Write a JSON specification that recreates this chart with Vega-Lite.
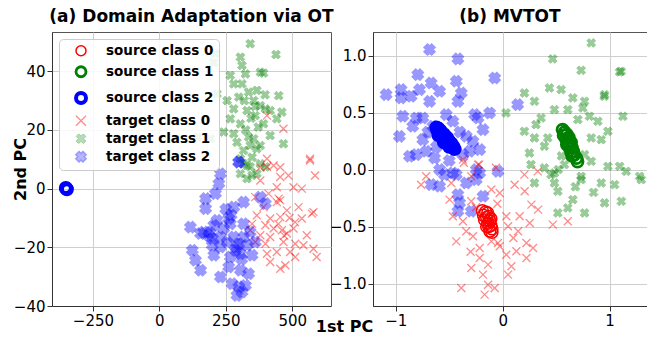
{
  "$schema": "https://vega.github.io/schema/vega-lite/v6.json",
  "padding": {"left": 11, "top": 7, "right": 0, "bottom": 0},
  "spacing": -6,
  "title": {"text": "1st PC", "orient": "bottom", "anchor": "middle", "font": "DejaVu Sans", "fontSize": 16, "fontWeight": "bold", "offset": -10, "dx": 15},
  "config": {
    "font": "DejaVu Sans",
    "view": {"stroke": "#555555", "strokeWidth": 1},
    "axis": {"labelFont": "DejaVu Sans", "labelFontSize": 15, "labelColor": "#000000", "tickColor": "#333333", "tickSize": 5, "domainColor": "#333333", "grid": true, "gridColor": "#cfcfcf", "gridWidth": 1, "titleFont": "DejaVu Sans", "titleFontSize": 16, "titleFontWeight": "bold", "titleColor": "#000000", "labelPadding": 2},
    "title": {"font": "DejaVu Sans", "fontSize": 17, "fontWeight": "bold", "color": "#000000", "offset": 6}
  },
  "datasets": {
    "a": [
      {"s":"t1","x":342,"y":49.4},{"s":"t1","x":439,"y":45.7},{"s":"t1","x":305,"y":44.8},{"s":"t1","x":311,"y":42},{"s":"t1","x":211,"y":46},{"s":"t1","x":204,"y":43},
      {"s":"t1","x":267,"y":38.6},{"s":"t1","x":324,"y":39.1},{"s":"t1","x":380,"y":39.7},{"s":"t1","x":392,"y":39.4},{"s":"t1","x":280,"y":35.7},{"s":"t1","x":311,"y":35.7},
      {"s":"t1","x":367,"y":33.5},{"s":"t1","x":217,"y":32.3},{"s":"t1","x":255,"y":30},{"s":"t1","x":299,"y":31.2},{"s":"t1","x":336,"y":32.9},{"s":"t1","x":449,"y":31.7},
      {"s":"t1","x":380,"y":28.3},{"s":"t1","x":399,"y":27.2},{"s":"t1","x":417,"y":26.6},{"s":"t1","x":461,"y":26.1},{"s":"t1","x":280,"y":27.2},{"s":"t1","x":330,"y":26.6},
      {"s":"t1","x":361,"y":24.9},{"s":"t1","x":442,"y":23.8},{"s":"t1","x":267,"y":23.8},{"s":"t1","x":305,"y":22.1},{"s":"t1","x":392,"y":22.1},{"s":"t1","x":242,"y":19.3},
      {"s":"t1","x":280,"y":18.7},{"s":"t1","x":336,"y":17.6},{"s":"t1","x":355,"y":17},{"s":"t1","x":417,"y":18.1},{"s":"t1","x":192,"y":17},{"s":"t1","x":144,"y":17.5},
      {"s":"t1","x":292,"y":15.8},{"s":"t1","x":342,"y":14.7},{"s":"t1","x":380,"y":14.7},{"s":"t1","x":317,"y":13},{"s":"t1","x":367,"y":13.6},{"s":"t1","x":467,"y":15.3},
      {"s":"t1","x":349,"y":10.7},{"s":"t1","x":305,"y":10.2},{"s":"t1","x":330,"y":7.9},{"s":"t1","x":380,"y":8.5},{"s":"t1","x":317,"y":8.5},{"s":"t1","x":342,"y":7.4},
      {"s":"t1","x":305,"y":5.1},{"s":"t1","x":367,"y":5.1},{"s":"t1","x":330,"y":3.4},{"s":"t1","x":399,"y":7.4},{"s":"t1","x":349,"y":4.5},{"s":"t1","x":360,"y":28},
      {"s":"t1","x":345,"y":24},{"s":"t1","x":372,"y":21},{"s":"t1","x":325,"y":20},{"s":"t1","x":355,"y":30},{"s":"t1","x":398,"y":32},{"s":"t1","x":320,"y":30},
      {"s":"t0","x":567,"y":9.6},{"s":"t0","x":586,"y":4.5},{"s":"t0","x":405,"y":7.4},{"s":"t0","x":430,"y":7.9},{"s":"t0","x":455,"y":4},{"s":"t0","x":486,"y":4.5},
      {"s":"t0","x":380,"y":2.8},{"s":"t0","x":442,"y":0.5},{"s":"t0","x":505,"y":0.5},{"s":"t0","x":411,"y":-1.7},{"s":"t0","x":449,"y":-3.4},{"s":"t0","x":442,"y":-4.6},
      {"s":"t0","x":361,"y":-2.9},{"s":"t0","x":524,"y":-6.3},{"s":"t0","x":580,"y":-8},{"s":"t0","x":392,"y":-6.3},{"s":"t0","x":480,"y":-7.4},{"s":"t0","x":367,"y":-9.1},
      {"s":"t0","x":417,"y":-10.2},{"s":"t0","x":455,"y":-9.7},{"s":"t0","x":511,"y":-11.4},{"s":"t0","x":536,"y":-10.2},{"s":"t0","x":349,"y":-12},{"s":"t0","x":399,"y":-12.5},
      {"s":"t0","x":430,"y":-13.6},{"s":"t0","x":461,"y":-14.2},{"s":"t0","x":480,"y":-15.3},{"s":"t0","x":505,"y":-13.6},{"s":"t0","x":555,"y":-15.9},{"s":"t0","x":342,"y":-14.2},
      {"s":"t0","x":380,"y":-15.9},{"s":"t0","x":417,"y":-16.5},{"s":"t0","x":361,"y":-18.2},{"s":"t0","x":399,"y":-18.8},{"s":"t0","x":467,"y":-18.2},{"s":"t0","x":511,"y":-18.8},
      {"s":"t0","x":542,"y":-19.3},{"s":"t0","x":580,"y":-20.5},{"s":"t0","x":592,"y":-23.3},{"s":"t0","x":405,"y":-22.2},{"s":"t0","x":442,"y":-21.6},{"s":"t0","x":492,"y":-21.6},
      {"s":"t0","x":417,"y":-25},{"s":"t0","x":455,"y":-27.3},{"s":"t0","x":474,"y":-26.1},{"s":"t0","x":511,"y":-23.3},{"s":"t0","x":574,"y":-8.5},{"s":"t0","x":536,"y":0},
      {"s":"t0","x":467,"y":20.4},{"s":"t0","x":405,"y":24.9},{"s":"t0","x":567,"y":10.2},{"s":"t0","x":405,"y":10.2},{"s":"t0","x":455,"y":7.3},{"s":"t0","x":380,"y":7.3},
      {"s":"t0","x":455,"y":-4},{"s":"t0","x":470,"y":-16},{"s":"t0","x":448,"y":-12},{"s":"t0","x":490,"y":-10},
      {"s":"t2","x":299,"y":9.1},{"s":"t2","x":230,"y":5.1},{"s":"t2","x":224,"y":1.7},{"s":"t2","x":211,"y":-1.7},{"s":"t2","x":174,"y":-3.4},{"s":"t2","x":174,"y":-6.8},
      {"s":"t2","x":317,"y":-4.6},{"s":"t2","x":280,"y":-6.3},{"s":"t2","x":380,"y":-2.9},{"s":"t2","x":399,"y":-5.1},{"s":"t2","x":261,"y":-10.2},{"s":"t2","x":217,"y":-10.8},
      {"s":"t2","x":205,"y":-12.5},{"s":"t2","x":117,"y":-13.1},{"s":"t2","x":167,"y":-14.8},{"s":"t2","x":186,"y":-16},{"s":"t2","x":242,"y":-13.6},{"s":"t2","x":267,"y":-12},
      {"s":"t2","x":317,"y":-12},{"s":"t2","x":342,"y":-14.8},{"s":"t2","x":280,"y":-16.5},{"s":"t2","x":255,"y":-18.2},{"s":"t2","x":299,"y":-18.8},{"s":"t2","x":330,"y":-19.3},
      {"s":"t2","x":361,"y":-18.2},{"s":"t2","x":230,"y":-19.9},{"s":"t2","x":199,"y":-19.3},{"s":"t2","x":124,"y":-21},{"s":"t2","x":136,"y":-24.4},{"s":"t2","x":155,"y":-27.8},
      {"s":"t2","x":205,"y":-22.7},{"s":"t2","x":267,"y":-23.3},{"s":"t2","x":305,"y":-22.2},{"s":"t2","x":349,"y":-22.7},{"s":"t2","x":261,"y":-26.7},{"s":"t2","x":305,"y":-27.8},
      {"s":"t2","x":336,"y":-29},{"s":"t2","x":230,"y":-30.1},{"s":"t2","x":274,"y":-32.4},{"s":"t2","x":299,"y":-33.5},{"s":"t2","x":311,"y":-35.2},{"s":"t2","x":292,"y":-36.4},
      {"s":"t2","x":324,"y":-33},{"s":"t2","x":286,"y":-21},{"s":"t2","x":317,"y":-16.5},{"s":"t2","x":230,"y":-16.5},{"s":"t2","x":155,"y":-15.3},{"s":"t2","x":299,"y":9},
      {"s":"t2","x":190,"y":-15},{"s":"t2","x":200,"y":-17},{"s":"t2","x":290,"y":-20},{"s":"t2","x":310,"y":-24},{"s":"t2","x":270,"y":-9},{"s":"t2","x":250,"y":-7},
      {"s":"s2","x":-352,"y":0.2},{"s":"s2","x":-350,"y":0},{"s":"s2","x":-348,"y":-0.2}
    ],
    "b": [
      {"s":"t2","x":-0.684,"y":1.053},{"s":"t2","x":-0.419,"y":0.971},{"s":"t2","x":-0.794,"y":0.833},{"s":"t2","x":-0.669,"y":0.76},{"s":"t2","x":-0.434,"y":0.775},{"s":"t2","x":-0.075,"y":0.804},
      {"s":"t2","x":-1.09,"y":0.658},{"s":"t2","x":-0.95,"y":0.702},{"s":"t2","x":-0.95,"y":0.629},{"s":"t2","x":-0.856,"y":0.643},{"s":"t2","x":-0.778,"y":0.702},{"s":"t2","x":-0.684,"y":0.599},
      {"s":"t2","x":-0.59,"y":0.687},{"s":"t2","x":-0.419,"y":0.599},{"s":"t2","x":-0.387,"y":0.672},{"s":"t2","x":-0.934,"y":0.468},{"s":"t2","x":-0.809,"y":0.453},{"s":"t2","x":-0.747,"y":0.453},
      {"s":"t2","x":-0.528,"y":0.482},{"s":"t2","x":-0.466,"y":0.424},{"s":"t2","x":-0.262,"y":0.482},{"s":"t2","x":-0.122,"y":0.497},{"s":"t2","x":-0.231,"y":0.453},{"s":"t2","x":-0.966,"y":0.292},
      {"s":"t2","x":-0.841,"y":0.38},{"s":"t2","x":-0.747,"y":0.263},{"s":"t2","x":-0.653,"y":0.38},{"s":"t2","x":-0.34,"y":0.292},{"s":"t2","x":-0.184,"y":0.351},{"s":"t2","x":-0.278,"y":0.249},
      {"s":"t2","x":-0.215,"y":0.175},{"s":"t2","x":-0.872,"y":0.117},{"s":"t2","x":-0.809,"y":0.132},{"s":"t2","x":-0.637,"y":0.102},{"s":"t2","x":-0.716,"y":0.161},{"s":"t2","x":-0.372,"y":0.132},
      {"s":"t2","x":-0.309,"y":0.161},{"s":"t2","x":-0.59,"y":0.0},{"s":"t2","x":-0.466,"y":-0.029},{"s":"t2","x":-0.247,"y":0.0},{"s":"t2","x":-0.044,"y":-0.015},{"s":"t2","x":0.14,"y":0.57},
      {"s":"t2","x":-0.669,"y":-0.132},{"s":"t2","x":-0.59,"y":-0.146},{"s":"t2","x":-0.544,"y":-0.044},{"s":"t2","x":-0.434,"y":-0.044},{"s":"t2","x":-0.34,"y":-0.117},{"s":"t2","x":-0.419,"y":-0.219},
      {"s":"t2","x":-0.403,"y":-0.292},{"s":"t2","x":-0.419,"y":-0.365},{"s":"t2","x":-0.294,"y":-0.365},{"s":"t2","x":-0.184,"y":-0.234},{"s":"t2","x":-0.215,"y":-0.029},{"s":"t2","x":-0.247,"y":-0.088},
      {"s":"t2","x":-0.5,"y":0.08},{"s":"t2","x":-0.62,"y":0.2},{"s":"t2","x":-0.4,"y":0.33},{"s":"t2","x":-0.7,"y":0.33},
      {"s":"t1","x":0.828,"y":1.111},{"s":"t1","x":0.468,"y":0.971},{"s":"t1","x":0.734,"y":0.871},{"s":"t1","x":1.094,"y":0.857},{"s":"t1","x":0.437,"y":0.716},{"s":"t1","x":0.547,"y":0.702},
      {"s":"t1","x":0.203,"y":0.672},{"s":"t1","x":0.297,"y":0.599},{"s":"t1","x":0.656,"y":0.629},{"s":"t1","x":0.766,"y":0.599},{"s":"t1","x":0.953,"y":0.658},{"s":"t1","x":0.031,"y":0.497},
      {"s":"t1","x":0.484,"y":0.526},{"s":"t1","x":0.609,"y":0.526},{"s":"t1","x":0.75,"y":0.541},{"s":"t1","x":0.359,"y":0.453},{"s":"t1","x":0.812,"y":0.468},{"s":"t1","x":1.125,"y":0.468},
      {"s":"t1","x":0.312,"y":0.395},{"s":"t1","x":0.703,"y":0.439},{"s":"t1","x":0.89,"y":0.424},{"s":"t1","x":0.203,"y":0.336},{"s":"t1","x":0.297,"y":0.278},{"s":"t1","x":0.422,"y":0.278},
      {"s":"t1","x":0.828,"y":0.278},{"s":"t1","x":0.984,"y":0.336},{"s":"t1","x":0.922,"y":0.263},{"s":"t1","x":0.25,"y":0.146},{"s":"t1","x":0.39,"y":0.205},{"s":"t1","x":0.766,"y":0.132},
      {"s":"t1","x":0.828,"y":0.073},{"s":"t1","x":0.984,"y":0.029},{"s":"t1","x":1.094,"y":0.029},{"s":"t1","x":1.156,"y":-0.015},{"s":"t1","x":1.281,"y":-0.059},{"s":"t1","x":0.265,"y":0.044},
      {"s":"t1","x":0.39,"y":0.015},{"s":"t1","x":0.484,"y":-0.029},{"s":"t1","x":0.734,"y":-0.059},{"s":"t1","x":0.578,"y":0.044},{"s":"t1","x":0.297,"y":-0.117},{"s":"t1","x":0.516,"y":-0.19},
      {"s":"t1","x":0.656,"y":-0.263},{"s":"t1","x":0.766,"y":-0.38},{"s":"t1","x":0.516,"y":-0.38},{"s":"t1","x":0.609,"y":-0.336},{"s":"t1","x":0.953,"y":-0.292},{"s":"t1","x":1.11,"y":-0.278},
      {"s":"t1","x":1.047,"y":-0.132},{"s":"t1","x":1.297,"y":-0.088},{"s":"t1","x":0.922,"y":-0.117},{"s":"t1","x":0.453,"y":-0.044},{"s":"t1","x":0.734,"y":-0.088},{"s":"t1","x":0.484,"y":-0.117},
      {"s":"t1","x":1.109,"y":0.862},{"s":"t1","x":0.95,"y":0.643},{"s":"t1","x":0.55,"y":0.12},{"s":"t1","x":0.52,"y":0.0},{"s":"t1","x":0.68,"y":-0.15},{"s":"t1","x":0.85,"y":-0.2},
      {"s":"t0","x":-0.716,"y":-0.058},{"s":"t0","x":-0.763,"y":-0.132},{"s":"t0","x":-0.481,"y":-0.117},{"s":"t0","x":-0.294,"y":-0.058},{"s":"t0","x":-0.106,"y":-0.175},{"s":"t0","x":-0.028,"y":-0.205},
      {"s":"t0","x":-0.497,"y":-0.263},{"s":"t0","x":-0.294,"y":-0.278},{"s":"t0","x":-0.466,"y":-0.409},{"s":"t0","x":-0.372,"y":-0.453},{"s":"t0","x":0.034,"y":-0.409},{"s":"t0","x":0.112,"y":-0.132},
      {"s":"t0","x":0.206,"y":-0.19},{"s":"t0","x":0.269,"y":-0.307},{"s":"t0","x":0.331,"y":-0.351},{"s":"t0","x":0.159,"y":-0.409},{"s":"t0","x":0.253,"y":-0.468},{"s":"t0","x":0.05,"y":-0.497},
      {"s":"t0","x":0.144,"y":-0.541},{"s":"t0","x":-0.341,"y":-0.541},{"s":"t0","x":-0.278,"y":-0.585},{"s":"t0","x":-0.434,"y":-0.629},{"s":"t0","x":-0.215,"y":-0.687},{"s":"t0","x":-0.106,"y":-0.629},
      {"s":"t0","x":-0.028,"y":-0.672},{"s":"t0","x":0.034,"y":-0.746},{"s":"t0","x":0.128,"y":-0.716},{"s":"t0","x":0.222,"y":-0.643},{"s":"t0","x":0.284,"y":-0.687},{"s":"t0","x":0.222,"y":-0.775},
      {"s":"t0","x":-0.215,"y":-0.775},{"s":"t0","x":-0.137,"y":-0.833},{"s":"t0","x":-0.294,"y":-0.863},{"s":"t0","x":-0.184,"y":-0.921},{"s":"t0","x":0.05,"y":-0.921},{"s":"t0","x":-0.387,"y":-1.038},
      {"s":"t0","x":-0.137,"y":-1.009},{"s":"t0","x":-0.075,"y":-1.038},{"s":"t0","x":-0.169,"y":-1.096},{"s":"t0","x":-0.044,"y":-0.643},{"s":"t0","x":0.081,"y":-0.848},{"s":"t0","x":-0.372,"y":0.088},
      {"s":"t0","x":-0.231,"y":0.044},{"s":"t0","x":-0.363,"y":0.06},{"s":"t0","x":-0.22,"y":0.044},{"s":"t0","x":-0.063,"y":0.017},{"s":"t0","x":0.609,"y":-0.453},{"s":"t0","x":0.469,"y":-0.482},
      {"s":"t0","x":0.203,"y":-0.044},{"s":"t0","x":0.328,"y":-0.015},{"s":"t0","x":-0.25,"y":-0.33},{"s":"t0","x":-0.05,"y":-0.3},{"s":"t0","x":0.1,"y":-0.6},{"s":"t0","x":-0.3,"y":-0.72},
      {"s":"s2","x":-0.62,"y":0.37},{"s":"s2","x":-0.61,"y":0.34},{"s":"s2","x":-0.6,"y":0.36},{"s":"s2","x":-0.59,"y":0.32},{"s":"s2","x":-0.58,"y":0.34},{"s":"s2","x":-0.57,"y":0.3},
      {"s":"s2","x":-0.56,"y":0.28},{"s":"s2","x":-0.55,"y":0.31},{"s":"s2","x":-0.54,"y":0.27},{"s":"s2","x":-0.53,"y":0.25},{"s":"s2","x":-0.52,"y":0.28},{"s":"s2","x":-0.51,"y":0.23},
      {"s":"s2","x":-0.5,"y":0.25},{"s":"s2","x":-0.49,"y":0.21},{"s":"s2","x":-0.48,"y":0.23},{"s":"s2","x":-0.46,"y":0.2},{"s":"s2","x":-0.45,"y":0.18},{"s":"s2","x":-0.6,"y":0.3},
      {"s":"s2","x":-0.55,"y":0.24},{"s":"s2","x":-0.5,"y":0.2},
      {"s":"s1","x":0.56,"y":0.35},{"s":"s1","x":0.58,"y":0.33},{"s":"s1","x":0.57,"y":0.3},{"s":"s1","x":0.6,"y":0.31},{"s":"s1","x":0.59,"y":0.27},{"s":"s1","x":0.61,"y":0.25},
      {"s":"s1","x":0.62,"y":0.28},{"s":"s1","x":0.63,"y":0.22},{"s":"s1","x":0.64,"y":0.24},{"s":"s1","x":0.65,"y":0.19},{"s":"s1","x":0.62,"y":0.2},{"s":"s1","x":0.66,"y":0.16},
      {"s":"s1","x":0.67,"y":0.13},{"s":"s1","x":0.65,"y":0.12},{"s":"s1","x":0.69,"y":0.1},{"s":"s1","x":0.7,"y":0.07},{"s":"s1","x":0.6,"y":0.22},{"s":"s1","x":0.64,"y":0.15},
      {"s":"s0","x":-0.19,"y":-0.36},{"s":"s0","x":-0.16,"y":-0.37},{"s":"s0","x":-0.14,"y":-0.38},{"s":"s0","x":-0.18,"y":-0.4},{"s":"s0","x":-0.15,"y":-0.42},{"s":"s0","x":-0.13,"y":-0.41},
      {"s":"s0","x":-0.17,"y":-0.44},{"s":"s0","x":-0.12,"y":-0.45},{"s":"s0","x":-0.14,"y":-0.47},{"s":"s0","x":-0.11,"y":-0.49},{"s":"s0","x":-0.13,"y":-0.5},{"s":"s0","x":-0.1,"y":-0.52},
      {"s":"s0","x":-0.12,"y":-0.54},{"s":"s0","x":-0.1,"y":-0.55},{"s":"s0","x":-0.15,"y":-0.5},{"s":"s0","x":-0.11,"y":-0.43}
    ]
  },
  "hconcat": [
    {
      "data": {"name": "a"},
      "width": 279,
      "height": 274,
      "title": {"text": "(a) Domain Adaptation via OT"},
      "mark": {"type": "point", "clip": true},
      "encoding": {
        "x": {"field": "x", "type": "quantitative", "scale": {"domain": [-404, 646], "nice": false, "zero": false}, "axis": {"title": null, "values": [-250, 0, 250, 500]}},
        "y": {"field": "y", "type": "quantitative", "scale": {"domain": [-40, 53.4], "nice": false, "zero": false}, "axis": {"title": "2nd PC", "values": [-40, -20, 0, 20, 40], "titleX": -24}},
        "shape": {"field": "s", "type": "nominal", "scale": {"domain": ["s0","s1","s2","t0","t1","t2"], "range": ["circle","circle","circle","M-1,-1L1,1M-1,1L1,-1","M0.955,-0.46L0.495,0L0.955,0.46L0.46,0.955L0,0.495L-0.46,0.955L-0.955,0.46L-0.495,0L-0.955,-0.46L-0.46,-0.955L0,-0.495L0.46,-0.955Z","M1.025,-0.389L0.636,0L1.025,0.389L0.389,1.025L0,0.636L-0.389,1.025L-1.025,0.389L-0.636,0L-1.025,-0.389L-0.389,-1.025L0,-0.636L0.389,-1.025Z"]},
          "legend": {"orient": "top-left", "title": null, "offset": 7, "padding": 5, "rowPadding": 2, "fillColor": "rgba(255,255,255,0.85)", "strokeColor": "#cccccc", "cornerRadius": 4, "labelFont": "DejaVu Sans", "labelFontSize": 13.5, "labelFontWeight": "bold", "labelColor": "#000000", "labelOffset": 18, "symbolOffset": 10,
            "labelExpr": "(substring(datum.label,0,1)=='s' ? 'source class ' : 'target class ') + substring(datum.label,1,2)"}},
        "fill": {"field": "s", "type": "nominal", "scale": {"domain": ["s0","s1","s2","t0","t1","t2"], "range": ["transparent","transparent","transparent","transparent","#008000","#0000ff"]}},
        "stroke": {"field": "s", "type": "nominal", "scale": {"domain": ["s0","s1","s2","t0","t1","t2"], "range": ["#ff0000","#008000","#0000ff","#ff0000","#008000","#0000ff"]}},
        "opacity": {"field": "s", "type": "nominal", "scale": {"type": "ordinal", "domain": ["s0","s1","s2","t0","t1","t2"], "range": [1, 1, 1, 0.45, 0.4, 0.4]}},
        "size": {"field": "s", "type": "nominal", "legend": null, "scale": {"type": "ordinal", "domain": ["s0","s1","s2","t0","t1","t2","zz"], "range": [140, 120, 100, 64, 85, 115, 1]}},
        "strokeWidth": {"field": "s", "type": "nominal", "scale": {"type": "ordinal", "domain": ["s0","s1","s2","t0","t1","t2"], "range": [1.5, 2.8, 4, 1.3, 1, 1.5]}}
      }
    },
    {
      "data": {"name": "b"},
      "width": 274,
      "height": 274,
      "title": {"text": "(b) MVTOT"},
      "mark": {"type": "point", "clip": true},
      "encoding": {
        "x": {"field": "x", "type": "quantitative", "scale": {"domain": [-1.213, 1.35], "nice": false, "zero": false}, "axis": {"title": null, "values": [-1, 0, 1], "format": "d"}},
        "y": {"field": "y", "type": "quantitative", "scale": {"domain": [-1.196, 1.207], "nice": false, "zero": false}, "axis": {"title": null, "values": [-1, -0.5, 0, 0.5, 1], "format": ".1f"}},
        "shape": {"field": "s", "type": "nominal", "legend": null, "scale": {"domain": ["s0","s1","s2","t0","t1","t2"], "range": ["circle","circle","circle","M-1,-1L1,1M-1,1L1,-1","M0.955,-0.46L0.495,0L0.955,0.46L0.46,0.955L0,0.495L-0.46,0.955L-0.955,0.46L-0.495,0L-0.955,-0.46L-0.46,-0.955L0,-0.495L0.46,-0.955Z","M1.025,-0.389L0.636,0L1.025,0.389L0.389,1.025L0,0.636L-0.389,1.025L-1.025,0.389L-0.636,0L-1.025,-0.389L-0.389,-1.025L0,-0.636L0.389,-1.025Z"]}},
        "fill": {"field": "s", "type": "nominal", "legend": null, "scale": {"domain": ["s0","s1","s2","t0","t1","t2"], "range": ["transparent","transparent","transparent","transparent","#008000","#0000ff"]}},
        "stroke": {"field": "s", "type": "nominal", "legend": null, "scale": {"domain": ["s0","s1","s2","t0","t1","t2"], "range": ["#ff0000","#008000","#0000ff","#ff0000","#008000","#0000ff"]}},
        "opacity": {"field": "s", "type": "nominal", "legend": null, "scale": {"type": "ordinal", "domain": ["s0","s1","s2","t0","t1","t2"], "range": [1, 1, 1, 0.45, 0.4, 0.4]}},
        "size": {"field": "s", "type": "nominal", "legend": null, "scale": {"type": "ordinal", "domain": ["s0","s1","s2","t0","t1","t2"], "range": [140, 120, 100, 64, 85, 115]}},
        "strokeWidth": {"field": "s", "type": "nominal", "legend": null, "scale": {"type": "ordinal", "domain": ["s0","s1","s2","t0","t1","t2"], "range": [1.5, 2.8, 4, 1.3, 1, 1.5]}}
      }
    }
  ],
  "resolve": {"scale": {"shape": "independent", "fill": "independent", "stroke": "independent", "opacity": "independent", "size": "independent", "strokeWidth": "independent"}, "legend": {"shape": "independent", "fill": "independent", "stroke": "independent", "opacity": "independent", "size": "independent", "strokeWidth": "independent"}}
}
